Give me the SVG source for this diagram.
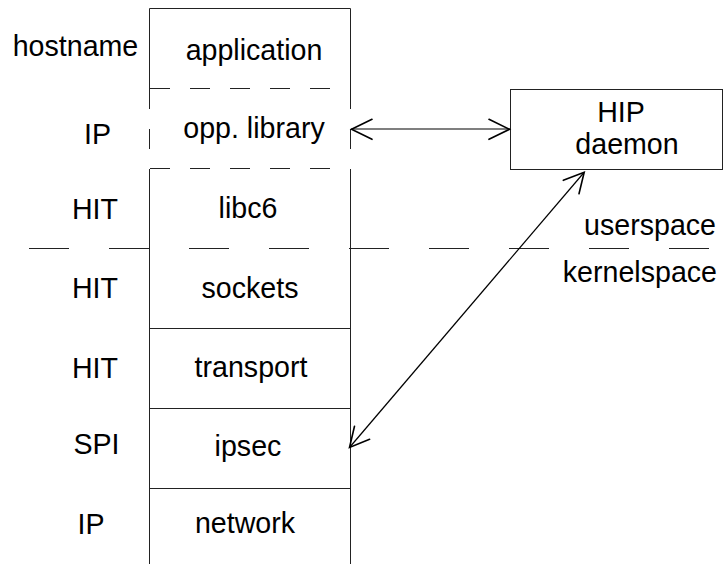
<svg xmlns="http://www.w3.org/2000/svg" width="724" height="564" viewBox="0 0 724 564">
  <style>
    text { font-family: "Liberation Sans", Arial, Helvetica, sans-serif; font-size: 28.6px; fill: #000; }
    .c { text-anchor: middle; }
    .e { text-anchor: end; }
    .ln { stroke: #222; stroke-width: 1; fill: none; }
    .dash { stroke: #222; stroke-width: 1; fill: none; stroke-dasharray: 20 20; }
    .div { stroke: #222; stroke-width: 1; fill: none; stroke-dasharray: 40 40; }
    .arr { stroke: #000; stroke-width: 1.2; fill: none; }
    .head { stroke: #000; stroke-width: 1.6; fill: none; stroke-linecap: round; stroke-linejoin: miter; }
  </style>

  <!-- protocol stack frame: solid walls, dashed around the library layer -->
  <g id="stack">
    <path class="ln" d="M149.5 564 V169 M149.5 89 V8.5 H350.5 V89 M350.5 169 V564"/>
    <line class="dash" x1="149.5" y1="89" x2="149.5" y2="169"/>
    <line class="dash" x1="350.5" y1="89" x2="350.5" y2="169"/>
    <line class="dash" x1="150" y1="88.5" x2="350" y2="88.5"/>
    <line class="dash" x1="150" y1="168.5" x2="350" y2="168.5"/>
    <line class="ln" x1="150" y1="328.5" x2="350" y2="328.5"/>
    <line class="ln" x1="150" y1="408.5" x2="350" y2="408.5"/>
    <line class="ln" x1="150" y1="488.5" x2="350" y2="488.5"/>
  </g>

  <!-- userspace / kernelspace boundary -->
  <g id="boundary">
    <line class="div" x1="29" y1="248.5" x2="710" y2="248.5"/>
    <text class="e" x="716" y="235">userspace</text>
    <text class="e" x="717" y="282">kernelspace</text>
  </g>

  <g id="application"><text class="c" x="254" y="60">application</text></g>
  <g id="opp-library"><text class="c" x="254" y="138">opp. library</text></g>
  <g id="libc6"><text class="c" x="248" y="218">libc6</text></g>
  <g id="sockets"><text class="c" x="250" y="298">sockets</text></g>
  <g id="transport"><text class="c" x="251" y="377">transport</text></g>
  <g id="ipsec"><text class="c" x="248" y="456">ipsec</text></g>
  <g id="network"><text class="c" x="245" y="533">network</text></g>

  <!-- identifiers used at each layer -->
  <g id="ids">
    <text class="c" x="75.5" y="56">hostname</text>
    <text class="c" x="97.5" y="144">IP</text>
    <text class="c" x="95" y="219">HIT</text>
    <text class="c" x="95" y="298">HIT</text>
    <text class="c" x="95" y="378">HIT</text>
    <text class="c" x="96.5" y="454">SPI</text>
    <text class="c" x="91" y="534">IP</text>
  </g>

  <g id="hip-daemon">
    <rect class="ln" x="510.5" y="89.5" width="212" height="80"/>
    <text class="c" x="621" y="122">HIP</text>
    <text class="c" x="627" y="154">daemon</text>
  </g>

  <g id="connectors">
    <line class="arr" x1="351" y1="129" x2="510" y2="129"/>
    <path class="head" d="M372 119.3 L351.5 129.3 L372 139.3"/>
    <path class="head" d="M489 119.3 L509.5 129.3 L489 139.3"/>
    <line class="arr" x1="349.5" y1="447.5" x2="584" y2="172.5"/>
    <path class="head" d="M354.5 426.3 L349.5 447.5 L369.6 439.3"/>
    <path class="head" d="M563.3 180.3 L584.2 172.3 L579 193.8"/>
  </g>
</svg>
